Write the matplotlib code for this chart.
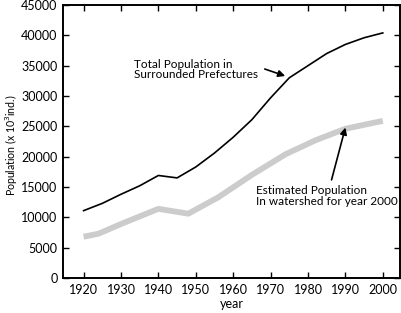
import matplotlib
matplotlib.use("Agg")
import matplotlib.pyplot as plt

plt.rcParams['font.family'] = ['Lato', 'DejaVu Sans']

years_total = [1920, 1925, 1930, 1935, 1940, 1945, 1950, 1955, 1960, 1965, 1970, 1975, 1980, 1985, 1990, 1995, 2000]
total_pop = [11100, 12300, 13800, 15200, 16900, 16500, 18300, 20600, 23200, 26100, 29700, 33000, 35000, 37000, 38500, 39600, 40400]

years_est = [1920, 1924, 1930, 1940, 1948, 1956, 1965, 1974, 1982, 1990, 2000]
est_pop = [6800, 7300, 8900, 11400, 10600, 13300, 17000, 20400, 22700, 24600, 25900]

xticks = [1920, 1930, 1940, 1950, 1960, 1970, 1980, 1990, 2000]
yticks = [0, 5000, 10000, 15000, 20000, 25000, 30000, 35000, 40000, 45000]

fig = plt.figure(figsize=(4.02, 3.13), dpi=100)
ax = fig.add_axes([63/402, 1 - 278/313, (400-63)/402, (278-5)/313])

ax.plot(years_est, est_pop, color='#cccccc', lw=4.2, solid_capstyle='butt')
ax.plot(years_total, total_pop, color='black', lw=1.2)

ax.set_xlim(1914.5, 2004.6)
ax.set_ylim(0, 45000)
ax.set_xticks(xticks)
ax.set_yticks(yticks)
ax.tick_params(direction='in', length=4, width=1, top=True, right=True,
               labeltop=False, labelright=False, labelsize=9, pad=4)
for s in ax.spines.values():
    s.set_linewidth(1.4)

ax.set_xlabel('year', fontsize=9, labelpad=2)
ax.set_ylabel('Population (x 10$^3$ind.)', fontsize=7.6)
ax.yaxis.set_label_coords(-0.132, 0.485)

ax.annotate('Total Population in\nSurrounded Prefectures', xy=(1973.9, 33300),
            xytext=(1933.5, 34400), fontsize=8.5, linespacing=0.95,
            va='center', ha='left',
            arrowprops=dict(arrowstyle='-|>', color='black', lw=1.2,
                            shrinkA=3, shrinkB=0, mutation_scale=10,
                            relpos=(1.0, 0.62)))
ax.annotate('Estimated Population\nIn watershed for year 2000', xy=(1990, 24800),
            xytext=(1966.2, 13500), fontsize=8.5, linespacing=0.95,
            va='center', ha='left',
            arrowprops=dict(arrowstyle='-|>', color='black', lw=1.2,
                            shrinkA=2, shrinkB=0, mutation_scale=10,
                            relpos=(0.52, 1.0)))

fig.savefig('out.png', dpi=100)
